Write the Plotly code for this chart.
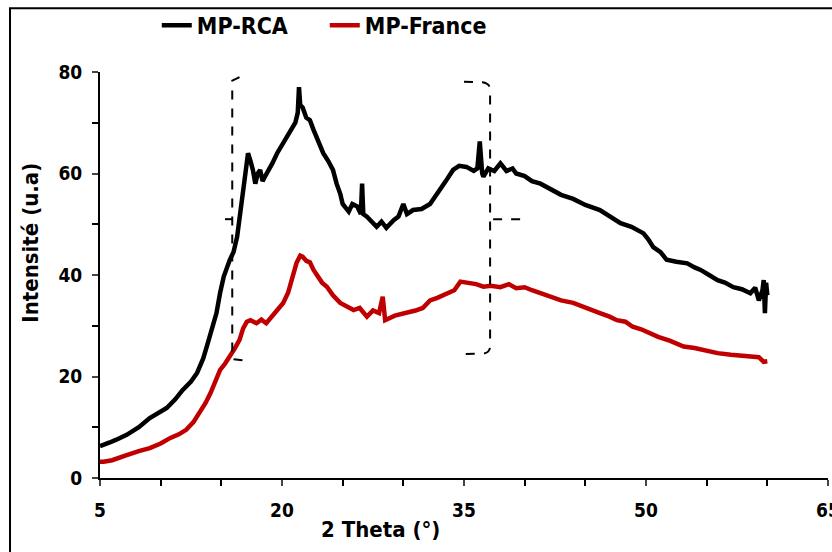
import plotly.graph_objects as go

# 2 Theta values and intensities
rca_x = [5.0, 5.3, 5.8, 6.3, 7.2, 8.2, 9.1, 10.5, 11.2, 11.8, 12.5, 13.0, 13.5, 13.8, 14.2,
         14.6, 14.9, 15.2, 15.7, 16.0, 16.3, 16.8, 17.1, 17.2, 17.4, 17.6, 17.8, 18.0, 18.2,
         18.4, 18.6, 18.9, 19.2, 19.6, 20.1, 20.6, 21.1, 21.3, 21.4, 21.5, 21.7, 22.0, 22.3,
         22.6, 23.0, 23.4, 23.8, 24.2, 24.5, 24.8, 25.0, 25.2, 25.5, 25.8, 26.2, 26.5, 26.6,
         26.7, 27.0, 27.4, 27.8, 28.2, 28.6, 29.2, 29.6, 30.0, 30.3, 30.8, 31.5, 32.2, 32.6,
         33.0, 33.5, 34.1, 34.6, 35.2, 35.8, 36.1, 36.3, 36.5, 36.6, 37.0, 37.5, 38.0, 38.5,
         39.0, 39.3, 40.0, 40.6, 41.3, 42.0, 43.0, 44.0, 45.0, 46.2, 47.0, 47.9, 48.8, 49.8,
         50.2, 50.6, 51.2, 51.7, 52.5, 53.4, 54.0, 54.5, 55.2, 55.9, 56.5, 57.2, 57.9, 58.6,
         59.0, 59.3, 59.6, 59.7, 59.8, 59.9, 60.0]
rca_y = [6.3, 6.5, 7.0, 7.5, 8.5, 10.0, 11.8, 13.8, 15.5, 17.3, 19.0, 20.7, 23.5, 25.9, 29.0,
         32.5, 36.5, 39.7, 43.0, 44.5, 47.5, 56.0, 61.0, 64.0, 62.5, 60.7, 58.0, 60.0, 60.7,
         58.5, 59.4, 60.5, 62.0, 64.0, 66.0, 68.0, 70.0, 72.0, 77.0, 73.5, 73.0, 71.0, 70.5,
         68.6, 66.0, 64.0, 62.5, 60.7, 58.0, 56.0, 54.0, 53.5, 52.5, 54.0, 53.5, 52.0, 58.0,
         52.0, 51.5, 50.5, 49.5, 50.5, 49.3, 50.8, 51.5, 54.0, 52.0, 52.8, 53.0, 54.0, 55.5,
         56.7, 58.5, 60.7, 61.5, 61.3, 60.5, 61.0, 66.3, 60.0, 59.4, 61.0, 60.5, 62.0, 60.5,
         61.0, 60.0, 59.5, 58.5, 58.0, 57.0, 55.8, 55.0, 53.8, 52.8, 51.5, 50.2, 49.5, 48.2,
         47.0, 45.5, 44.5, 43.0, 42.6, 42.3, 41.5, 41.0, 40.0, 39.0, 38.5, 37.6, 37.2, 36.4,
         37.5, 35.0, 37.0, 39.0, 32.5, 38.5, 36.0]

fr_x = [5.0, 5.3, 6.0, 6.5, 7.2, 8.2, 9.1, 10.0, 10.8, 11.5, 12.1, 12.7, 13.2, 13.7, 14.1,
        14.5, 14.9, 15.3, 15.7, 16.1, 16.5, 16.8, 17.1, 17.4, 17.9, 18.3, 18.7, 19.2, 19.6,
        20.1, 20.5, 20.9, 21.2, 21.5, 21.7, 22.0, 22.3, 22.6, 23.0, 23.3, 23.7, 24.2, 24.8,
        25.3, 25.9, 26.4, 27.0, 27.5, 28.0, 28.3, 28.5, 29.3, 30.3, 31.0, 31.6, 32.2, 32.8,
        33.6, 34.2, 34.7, 35.3, 36.0, 36.6, 37.2, 38.0, 38.7, 39.3, 40.0, 40.6, 41.3, 42.0,
        43.0, 44.0, 45.0, 46.2, 47.0, 47.6, 48.3, 48.9, 49.6, 50.3, 51.0, 52.0, 53.1, 54.0,
        55.0, 55.9, 57.0, 58.6, 59.3, 59.7, 60.0]
fr_y = [3.2, 3.2, 3.5, 4.0, 4.5, 5.3, 5.9, 6.8, 7.9, 8.6, 9.5, 11.0, 12.8, 14.8, 16.7,
        19.0, 21.3, 22.5, 23.9, 25.5, 27.2, 29.5, 30.8, 31.1, 30.5, 31.2, 30.5, 32.0, 33.0,
        34.5, 36.5, 39.5, 42.4, 43.8, 43.6, 42.8, 42.5, 41.0, 39.5, 38.5, 37.7, 36.0, 34.5,
        33.8, 33.1, 33.5, 31.8, 33.0, 32.5, 35.7, 31.1, 32.0, 32.5, 33.0, 33.5, 35.0, 35.5,
        36.4, 37.0, 38.7, 38.5, 38.2, 37.7, 37.9, 37.6, 38.2, 37.4, 37.6, 37.0, 36.4, 35.8,
        35.0, 34.5, 33.5, 32.5, 31.8, 31.1, 30.8, 29.8, 29.3, 28.5, 27.8, 27.0, 25.9, 25.6,
        25.0, 24.6, 24.3, 23.9, 23.8, 22.9, 23.0]

FONT = "DejaVu Sans Condensed, Liberation Sans Narrow, Roboto, sans-serif"

fig = go.Figure()
fig.add_trace(go.Scatter(x=rca_x, y=rca_y, mode="lines", name="MP-RCA",
                         line=dict(color="black", width=4.5)))
fig.add_trace(go.Scatter(x=fr_x, y=fr_y, mode="lines", name="MP-France",
                         line=dict(color="#C00000", width=4.5)))

# dashed braces drawn on the figure
dash = dict(color="black", width=2, dash="dash")
fig.add_shape(type="path", xref="x", yref="y", line=dash,
              path="M 16.5,79 L 15.9,78.3 L 15.9,23.4 L 16.8,23.2")
fig.add_shape(type="line", xref="x", yref="y", line=dict(color="black", width=2),
              x0=15.3, y0=51.0, x1=15.9, y1=51.0)
fig.add_shape(type="path", xref="x", yref="y", line=dash,
              path="M 35.0,78.1 L 36.5,78.0 Q 37.15,77.8 37.15,76.5 L 37.15,26.0 "
                   "Q 37.15,24.6 36.5,24.5 L 35.0,24.4")
fig.add_shape(type="line", xref="x", yref="y", line=dash,
              x0=37.4, y0=51.0, x1=40.2, y1=51.0)

# outer frame of the chart area
fig.add_shape(type="rect", xref="paper", yref="paper", line=dict(color="black", width=2),
              x0=-0.1236, y0=-0.4, x1=1.2, y1=1.157)

# axis titles (they sit off-centre in the original)
title_font = dict(size=22, family=FONT, weight="bold", color="black")
fig.add_annotation(text="2 Theta (°)", xref="paper", yref="paper", x=0.385, y=-0.128,
                   xanchor="center", yanchor="middle", showarrow=False, font=title_font)
fig.add_annotation(text="Intensité (u.a)", xref="paper", yref="paper", x=-0.096, y=0.58,
                   xanchor="center", yanchor="middle", textangle=-90, showarrow=False,
                   font=title_font)

fig.update_layout(
    width=832, height=552,
    margin=dict(l=100, r=4, t=72, b=74),
    plot_bgcolor="white", paper_bgcolor="white",
    font=dict(family=FONT, size=16, color="black"),
    showlegend=True,
    legend=dict(orientation="h", x=0.078, y=1.115, xanchor="left", yanchor="middle",
                font=dict(size=23, family=FONT, weight="bold"),
                entrywidth=123, entrywidthmode="pixels", bgcolor="rgba(0,0,0,0)"),
    xaxis=dict(range=[5, 65], tick0=5, dtick=15, ticks="outside", ticklen=6, tickwidth=2,
               showline=True, linecolor="black", linewidth=2, showgrid=False, zeroline=False,
               minor=dict(tick0=5, dtick=5, ticks="outside", ticklen=6, tickwidth=2,
                          tickcolor="black"),
               tickfont=dict(size=19, family=FONT, weight="bold"), ticklabelstandoff=8,
               ticklabeloverflow="allow", automargin=False),
    yaxis=dict(range=[0, 80], tick0=0, dtick=20, ticks="outside", ticklen=6, tickwidth=2,
               showline=True, linecolor="black", linewidth=2, showgrid=False, zeroline=False,
               minor=dict(tick0=0, dtick=10, ticks="outside", ticklen=6, tickwidth=2,
                          tickcolor="black"),
               tickfont=dict(size=19, family=FONT, weight="bold"), ticklabelstandoff=6,
               automargin=False),
)

# the page body has a default 8px margin; drop it so the figure fills the window
fig.write_html("out.html", config={"displayModeBar": False},
               post_script="document.body.style.margin='0';")
